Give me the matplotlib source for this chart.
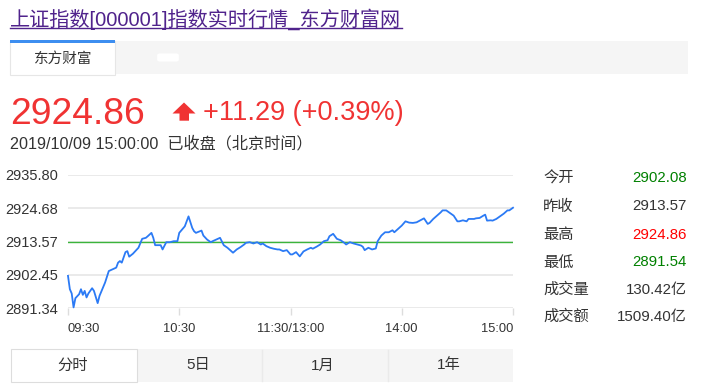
import matplotlib
matplotlib.use("Agg")
import matplotlib.pyplot as plt
import matplotlib.patches as patches
from matplotlib.lines import Line2D

plt.rcParams['font.family'] = ['Liberation Sans', 'Noto Sans CJK SC', 'DejaVu Sans']

W, H = 702, 386

# minutes since 09:30 (lunch break removed), index value
minutes = [0, 1, 2, 3, 4, 6, 7, 8, 9, 10, 11, 13, 14, 16, 17, 20, 22, 24, 26, 27,
           28, 29, 31, 32, 33, 35, 38, 40, 42, 43, 45, 46, 47, 50, 51, 53, 55, 57, 59, 60,
           63, 65, 67, 68, 69, 72, 73, 75, 77, 78, 80, 82, 84, 86, 87, 89, 91, 93, 95, 96,
           98, 100, 102, 104, 105, 107, 109, 111, 113, 114, 116, 118, 120, 121, 123, 125, 127, 129, 131, 132,
           134, 136, 138, 140, 141, 143, 145, 147, 149, 150, 152, 154, 156, 158, 159, 160, 162, 164, 166, 167,
           169, 171, 173, 175, 176, 178, 180, 182, 184, 186, 188, 190, 192, 194, 195, 197, 199, 201, 202, 204,
           206, 208, 210, 211, 213, 215, 216, 219, 220, 222, 224, 225, 226, 228, 229, 231, 233, 235, 237, 238,
           240]
prices = [2902.08, 2897.62, 2896.20, 2891.54, 2894.63, 2895.96, 2897.62, 2895.73, 2897.06, 2894.87,
          2896.20, 2897.96, 2897.06, 2892.97, 2895.40, 2899.85, 2903.70, 2904.27, 2904.83, 2906.49,
          2907.03, 2906.49, 2910.02, 2910.35, 2908.49, 2909.48, 2911.48, 2914.47, 2914.80, 2915.33,
          2916.46, 2914.80, 2912.34, 2912.34, 2910.91, 2913.34, 2913.34, 2913.67, 2913.67, 2916.46,
          2918.65, 2921.97, 2918.12, 2916.99, 2916.46, 2917.22, 2915.56, 2914.23, 2913.34, 2913.67,
          2914.23, 2914.80, 2912.34, 2911.48, 2910.91, 2909.82, 2910.91, 2911.68, 2912.57, 2913.14,
          2913.34, 2912.91, 2913.34, 2912.57, 2912.91, 2912.01, 2911.48, 2911.15, 2910.91, 2910.91,
          2910.35, 2910.68, 2909.25, 2909.25, 2910.02, 2908.59, 2910.25, 2910.91, 2911.48, 2911.15,
          2911.81, 2912.57, 2913.67, 2914.00, 2915.33, 2916.13, 2914.47, 2914.00, 2913.14, 2912.57,
          2913.34, 2912.91, 2912.57, 2912.24, 2911.81, 2910.68, 2911.48, 2910.91, 2911.24, 2913.67,
          2915.56, 2916.66, 2916.66, 2917.32, 2916.66, 2917.79, 2918.89, 2920.31, 2919.88, 2919.78,
          2919.98, 2920.65, 2921.31, 2919.45, 2919.78, 2921.11, 2922.21, 2923.30, 2923.97, 2923.97,
          2923.10, 2922.21, 2920.31, 2920.31, 2920.65, 2920.31, 2921.11, 2921.11, 2921.31, 2921.44,
          2922.21, 2922.54, 2920.55, 2920.65, 2920.55, 2921.11, 2921.97, 2922.87, 2923.97, 2923.97,
          2924.86]

prev_close = 2913.57
y_ticks = [2891.34, 2902.45, 2913.57, 2924.68, 2935.80]
y_labels = ['2891.34', '2902.45', '2913.57', '2924.68', '2935.80']
x_ticks = [0, 60, 120, 180, 240]
x_labels = ['09:30', '10:30', '11:30/13:00', '14:00', '15:00']

stat_names = ['今开', '昨收', '最高', '最低', '成交量', '成交额']
stat_values = ['2902.08', '2913.57', '2924.86', '2891.54', '130.42亿', '1509.40亿']
stat_colors = ['#008000', '#333333', '#ff0000', '#008000', '#333333', '#333333']

tab_names = ['分时', '5日', '1月', '1年']


def fx(x):
    return x / W


def fy(y):
    return 1 - y / H


def box(fig, x0, y0, x1, y1, fc, ec='none', lw=0):
    fig.patches.append(patches.Rectangle((fx(x0), fy(y1)), fx(x1) - fx(x0), fy(y0) - fy(y1),
                                         transform=fig.transFigure, facecolor=fc,
                                         edgecolor=ec, linewidth=lw))


def hline(fig, x0, x1, y, color, lw):
    fig.lines.append(Line2D([fx(x0), fx(x1)], [fy(y), fy(y)], transform=fig.transFigure,
                            color=color, linewidth=lw))


fig = plt.figure(figsize=(W / 100, H / 100), dpi=100)
fig.patch.set_facecolor('white')

# title link
fig.text(fx(10), fy(19), '上证指数[000001]指数实时行情_东方财富网', fontsize=14.5,
         color='#50238c', va='center', ha='left')
hline(fig, 10, 402, 27.5, '#50238c', 1.0)

# tab bar
box(fig, 10, 41, 688, 74, '#f5f5f5')
box(fig, 10, 41, 115, 75, 'white', '#e6e6e6', 0.8)
box(fig, 10, 40, 115, 42.5, '#3d8ef0')
fig.patches.append(patches.FancyBboxPatch((fx(160), fy(60)), fx(16), 5 / H,
                                          boxstyle='round,pad=0.004',
                                          transform=fig.transFigure, facecolor='white',
                                          edgecolor='none'))
fig.text(fx(63), fy(59), '东方财富', fontsize=10.5, color='#333333', ha='center', va='center')

# price header
fig.text(fx(10), fy(123.5), '2924.86', fontsize=26.8, color='#f03333', ha='left', va='baseline')
arrow = [(172.5, 113.5), (184, 102.5), (195.5, 113.5), (189, 113.5), (189, 120.7),
         (179.5, 120.7), (179.5, 113.5)]
fig.patches.append(patches.Polygon([(fx(a), fy(b)) for a, b in arrow], closed=True,
                                   transform=fig.transFigure, facecolor='#f03333',
                                   edgecolor='none'))
fig.text(fx(203), fy(119.5), '+11.29 (+0.39%)', fontsize=19.5, color='#f03333',
         ha='left', va='baseline')
fig.text(fx(10), fy(143.5), '2019/10/09 15:00:00  已收盘（北京时间）', fontsize=11.6,
         color='#333333', ha='left', va='center')

# intraday chart
ax = fig.add_axes([fx(68), fy(308), fx(513) - fx(68), fy(175) - fy(308)])
ax.set_xlim(0, 240)
ax.set_ylim(y_ticks[0], y_ticks[-1])
for v in y_ticks:
    ax.axhline(v, color='#e8e8e8', linewidth=1.3, zorder=1)
ax.axhline(prev_close, color='#3cb43c', linewidth=1.0, zorder=2)
ax.plot(minutes, prices, color='#2b7af5', linewidth=1.3, zorder=3, clip_on=False,
        solid_joinstyle='round')
for s in ax.spines.values():
    s.set_visible(False)
ax.set_yticks(y_ticks)
ax.set_yticklabels(y_labels)
ax.set_xticks(x_ticks)
ax.set_xticklabels(x_labels)
ax.tick_params(axis='y', length=0, pad=7, labelsize=10.5, labelcolor='#333333')
ax.tick_params(axis='x', length=5, width=1, color='#dddddd', pad=6, labelsize=9.3,
               labelcolor='#333333')
xl = ax.get_xticklabels()
xl[0].set_ha('left')
xl[-1].set_ha('right')

# stats panel
row_y = [178, 206.5, 235, 262.5, 290, 316.5]
for name, val, col, y in zip(stat_names, stat_values, stat_colors, row_y):
    fig.text(fx(543), fy(y), name, fontsize=11, color='#333333', ha='left', va='center')
    fig.text(fx(687), fy(y), val, fontsize=10.8, color=col, ha='right', va='center')

# period tabs
box(fig, 137, 349, 513, 381.5, '#f5f5f5')
box(fig, 10.5, 349, 137, 381.5, 'white', '#dddddd', 0.8)
tab_x = [73, 198, 323, 449]
for sep in [262, 388]:
    fig.lines.append(Line2D([fx(sep), fx(sep)], [fy(350), fy(381)], transform=fig.transFigure,
                            color='#eaeaea', linewidth=1.0))
for name, x in zip(tab_names, tab_x):
    fig.text(fx(x), fy(365.5), name, fontsize=11, color='#333333', ha='center', va='center')

fig.savefig('out.png', dpi=100)
